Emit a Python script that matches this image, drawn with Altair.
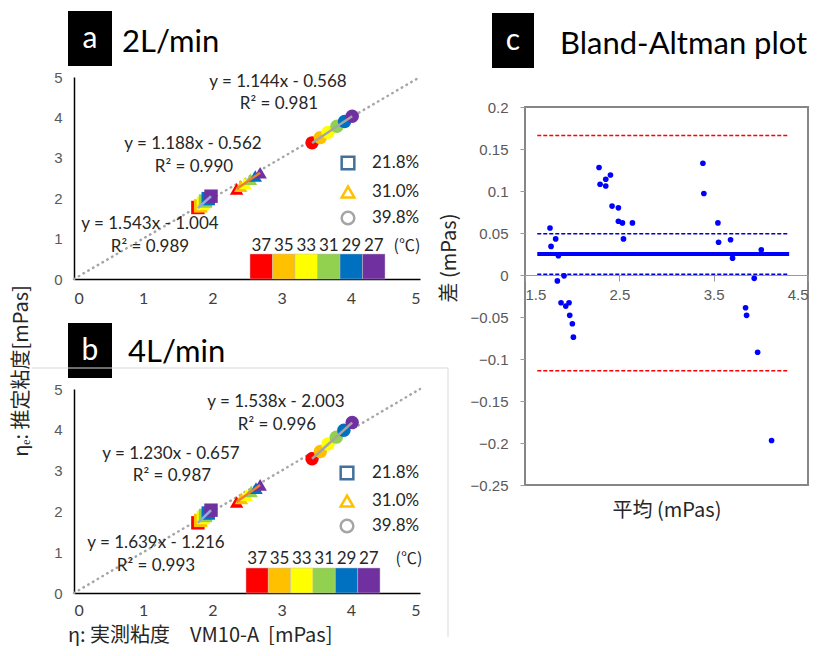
import altair as alt
import pandas as pd

# ---------------- data ----------------
TEMPS = ["37", "35", "33", "31", "29", "27"]
TEMP_COLORS = ["#FF0000", "#FFC000", "#FFFF00", "#92D050", "#0070C0", "#7030A0"]
SOLUTIONS = ["21.8%", "31.0%", "39.8%"]
SHAPES = ["square", "triangle-up", "circle"]
TREND_COLORS = ["#8FAADC", "#ED7D31", "#A5A5A5"]
LEGEND_COLORS = ["#41719C", "#FFC000", "#A5A5A5"]
DIAG = [0, 5]
TICKS_AB = [0, 1, 2, 3, 4, 5]

# panel a : 2 L/min  (x = measured, y = estimated)
a_sq_x = [1.79, 1.83, 1.87, 1.90, 1.94, 1.98]
a_sq_y = [1.77, 1.81, 1.87, 1.93, 1.99, 2.05]
a_tri_x = [2.35, 2.41, 2.47, 2.55, 2.62, 2.69]
a_tri_y = [2.23, 2.30, 2.37, 2.47, 2.55, 2.63]
a_cir_x = [3.44, 3.56, 3.67, 3.80, 3.91, 4.02]
a_cir_y = [3.37, 3.50, 3.63, 3.78, 3.90, 4.03]
a_eq = ["y = 1.543x - 1.004", "R² = 0.989",
        "y = 1.188x - 0.562", "R² = 0.990",
        "y = 1.144x - 0.568", "R² = 0.981"]

# panel b : 4 L/min
b_sq_x = [1.79, 1.83, 1.87, 1.90, 1.94, 1.98]
b_sq_y = [1.72, 1.78, 1.85, 1.90, 1.96, 2.03]
b_tri_x = [2.35, 2.42, 2.49, 2.56, 2.63, 2.69]
b_tri_y = [2.23, 2.32, 2.40, 2.49, 2.57, 2.65]
b_cir_x = [3.44, 3.56, 3.67, 3.79, 3.90, 4.02]
b_cir_y = [3.29, 3.47, 3.65, 3.82, 3.99, 4.18]
b_eq = ["y = 1.639x - 1.216", "R² = 0.993",
        "y = 1.230x - 0.657", "R² = 0.987",
        "y = 1.538x - 2.003", "R² = 0.996"]

# panel c : Bland-Altman
BA_MEAN = [1.765, 1.776, 1.825, 1.854, 1.843, 1.882, 1.914, 1.932, 1.967, 1.974,
           2.002, 2.013, 2.285, 2.296, 2.356, 2.356, 2.406, 2.423, 2.49, 2.49,
           2.533, 2.544, 2.639, 3.386, 3.396, 3.545, 3.552, 3.679, 3.70, 3.93,
           3.838, 3.849, 3.966, 4.005, 4.114]
BA_DIFF = [0.056, 0.034, 0.043, 0.023, -0.007, -0.033, -0.001, -0.037, -0.033, -0.048,
           -0.058, -0.074, 0.128, 0.108, 0.114, 0.106, 0.119, 0.082, 0.080, 0.064,
           0.062, 0.043, 0.062, 0.133, 0.097, 0.062, 0.039, 0.042, 0.020, -0.004,
           -0.039, -0.048, -0.092, 0.030, -0.197]
BA_LOA = [0.166, -0.114]
BA_CI = [0.049, 0.001]
BA_BIAS = [0.025]
BA_LINE_X = [1.63, 4.30]
TICKS_CY = [0.2, 0.15, 0.1, 0.05, 0, -0.05, -0.1, -0.15, -0.2, -0.25]
TICKS_CX = [1.5, 2.5, 3.5, 4.5]

LATIN = "Lato"
CJK = "Noto Sans CJK JP"
TXT = "#262626"


def text_layer(label, x, y, size=17, color=TXT, font=LATIN, align="center", angle=0, weight="normal"):
    return alt.Chart(pd.DataFrame({"t": [label]})).mark_text(
        font=font, fontSize=size, color=color, align=align, baseline="middle",
        angle=angle, fontWeight=weight
    ).encode(text="t:N", x=alt.value(x), y=alt.value(y))


def header(letter, title, bx0, bx1, by0, by1, lx, ly, tx, ty, tsize):
    df = pd.DataFrame({"letter": [letter], "title": [title]})
    box = alt.Chart(df).mark_rect(color="black").encode(
        x=alt.value(bx0), x2=alt.value(bx1), y=alt.value(by0), y2=alt.value(by1))
    let = alt.Chart(df).mark_text(font=LATIN, fontSize=30, color="white", align="center",
                                  baseline="middle").encode(text="letter:N", x=alt.value(lx), y=alt.value(ly))
    tit = alt.Chart(df).mark_text(font=LATIN, fontSize=tsize, color="black", align="left",
                                  baseline="middle").encode(text="title:N", x=alt.value(tx), y=alt.value(ty))
    return [box, let, tit]


def scatter_panel(xs_list, ys_list, eqs, eq_pos, leg_x, leg_tx, leg_y, cb_x, cb_y, cb_ly, unit_x,
                  hdr, height, xpad, extra):
    rows = []
    for sol, xs, ys in zip(SOLUTIONS, xs_list, ys_list):
        for t, xv, yv in zip(TEMPS, xs, ys):
            rows.append({"x": xv, "y": yv, "temp": t, "sol": sol})
    df = pd.DataFrame(rows)
    xsc = alt.Scale(domain=[0, 5], nice=False, zero=False)
    ysc = alt.Scale(domain=[0, 5], nice=False, zero=False)
    xax = alt.Axis(values=TICKS_AB, format="d", grid=False, ticks=False, domainColor="black",
                   domainWidth=1.5, labelFont=LATIN, labelFontSize=16, labelColor="#404040",
                   labelPadding=xpad, title=None)
    yax = alt.Axis(values=TICKS_AB, format="d", grid=False, ticks=False, domainColor="black",
                   domainWidth=1.5, labelFont="Liberation Sans", labelFontSize=15,
                   labelColor="#595959", labelPadding=12, title=None)
    X = alt.X("x:Q", scale=xsc, axis=xax)
    Y = alt.Y("y:Q", scale=ysc, axis=yax)
    tscale = alt.Scale(domain=TEMPS, range=TEMP_COLORS)

    diag = alt.Chart(pd.DataFrame({"x": DIAG, "y": DIAG})).mark_line(
        color="#A6A6A6", strokeWidth=2.5, strokeDash=[0.5, 5], strokeCap="round").encode(x=X, y=Y)
    pts = alt.Chart(df).mark_point(filled=True, size=180, opacity=1, strokeWidth=0).encode(
        x=X, y=Y,
        color=alt.Color("temp:N", scale=tscale, legend=None),
        shape=alt.Shape("sol:N", scale=alt.Scale(domain=SOLUTIONS, range=SHAPES), legend=None),
        order=alt.Order("x:Q"))
    trend = alt.Chart(df).transform_regression("x", "y", groupby=["sol"]).mark_line(
        strokeWidth=2.5).encode(
        x=X, y=Y,
        stroke=alt.Stroke("sol:N", scale=alt.Scale(domain=SOLUTIONS, range=TREND_COLORS), legend=None))

    layers = [diag, pts, trend]
    for lab, (px, py) in zip(eqs, eq_pos):
        layers.append(text_layer(lab, px, py, size=17))
    # legend
    for i, sol in enumerate(SOLUTIONS):
        sym = alt.Chart(pd.DataFrame({"s": [sol]})).mark_point(
            shape=SHAPES[i], size=160, strokeWidth=2.5, filled=False, color=LEGEND_COLORS[i], opacity=1
        ).encode(x=alt.value(leg_x), y=alt.value(leg_y[i]))
        layers.append(sym)
        layers.append(text_layer(sol, leg_tx, leg_y[i], size=17, align="left"))
    layers.append(text_layer("(℃)", unit_x, cb_ly, size=16, font=CJK))
    layers += hdr
    layers += extra
    main = alt.layer(*layers)

    cdf = pd.DataFrame({"temp": TEMPS})
    cbx = alt.X("temp:N", scale=alt.Scale(domain=TEMPS, range=cb_x, paddingInner=0, paddingOuter=0),
                axis=None)
    cb_rect = alt.Chart(cdf).mark_rect(stroke="#BFBFBF", strokeWidth=0.5).encode(
        x=cbx, y=alt.value(cb_y[0]), y2=alt.value(cb_y[1]),
        color=alt.Color("temp:N", scale=tscale, legend=None))
    cb_text = alt.Chart(cdf).mark_text(font=LATIN, fontSize=17, color=TXT, baseline="middle").encode(
        x=cbx, y=alt.value(cb_ly), text="temp:N")
    cbar = alt.layer(cb_rect, cb_text)
    return alt.layer(main, cbar).resolve_scale(x="independent").properties(width=346, height=height)


# ---------- panel a ----------
hdr_a = header("a", "2L/min", -6, 38, -66, -11, 16, -38, 48, -34, 31)
ytitle = text_layer("ηₑ: 推定粘度[mPas]", -52, 294, size=20, font=CJK, angle=270)
panel_a = scatter_panel(
    [a_sq_x, a_tri_x, a_cir_x], [a_sq_y, a_tri_y, a_cir_y], a_eq,
    [(76, 147), (76, 170), (119, 67), (120, 90), (204, 5), (205, 27)],
    274, 298, [86, 115, 141], [176, 311], [177, 202], 169, 333, hdr_a, 202, 11, [ytitle])

# ---------- panel b ----------
hdr_b = header("b", "4L/min", -6, 38, -66, -11, 16, -38, 54, -36, 31)
xtitle_b = text_layer("η: 実測粘度\u3000VM10-A\u00a0\u00a0[mPas]", -6, 247, size=20, font=CJK, align="left")
frame_top = alt.Chart(pd.DataFrame({"f": [0]})).mark_rule(color="#D9D9D9", strokeWidth=1).encode(
    x=alt.value(-42), x2=alt.value(361), y=alt.value(-21))
panel_b = scatter_panel(
    [b_sq_x, b_tri_x, b_cir_x], [b_sq_y, b_tri_y, b_cir_y], b_eq,
    [(82, 154), (82, 177), (97, 65), (98, 87), (202, 13), (203, 36)],
    273, 298, [84, 112, 137], [172, 306], [179, 204], 170, 335, hdr_b, 204, 9,
    [xtitle_b, frame_top])

# ---------- panel c ----------
cdf = pd.DataFrame({"m": BA_MEAN, "d": BA_DIFF})
cxs = alt.Scale(domain=[1.5, 4.5], nice=False, zero=False)
cys = alt.Scale(domain=[-0.25, 0.2], nice=False, zero=False)
cxax = alt.Axis(values=TICKS_CX, format=".1f", offset=-210, grid=False, domainColor="#9A9A9A",
                domainWidth=1, tickColor="#9A9A9A", tickSize=6, labelFont="Liberation Sans",
                labelFontSize=15, labelColor="#595959", labelPadding=6, title=None)
cyax = alt.Axis(values=TICKS_CY, format=".2~f", grid=False, domain=False, tickColor="#9A9A9A",
                tickSize=5, labelFont="Liberation Sans", labelFontSize=15, labelColor="#595959",
                labelPadding=12, title=None)
CX = alt.X("m:Q", scale=cxs, axis=cxax)
CY = alt.Y("d:Q", scale=cys, axis=cyax)

c_pts = alt.Chart(cdf).mark_circle(size=32, color="#0000FF", opacity=1).encode(x=CX, y=CY)


def hline(vals, color, width, dash=None):
    d = pd.DataFrame({"d": vals, "m": [BA_LINE_X[0]] * len(vals), "m2": [BA_LINE_X[1]] * len(vals)})
    kw = dict(color=color, strokeWidth=width)
    if dash:
        kw["strokeDash"] = dash
    return alt.Chart(d).mark_rule(**kw).encode(
        x=alt.X("m:Q", scale=cxs, axis=cxax), x2="m2:Q", y=alt.Y("d:Q", scale=cys, axis=cyax))


loa = hline(BA_LOA, "#FF0000", 1.5, [4, 2])
ci = hline(BA_CI, "#0000CC", 1.5, [4, 2])
bias = hline(BA_BIAS, "#0000FF", 4)

hdr_c = header("c", "Bland-Altman plot", -33, 9, -94, -39, -12, -66, 35, -62, 31)
c_xt = text_layer("平均 (mPas)", 142, 404, size=20, font=CJK)
c_yt = text_layer("差 (mPas)", -75, 151, size=20, font=CJK, angle=270)
frame_r = alt.Chart(pd.DataFrame({"f": [0]})).mark_rule(color="#D9D9D9", strokeWidth=1).encode(
    x=alt.value(-77), y=alt.value(261), y2=alt.value(530))
frame_t = alt.Chart(pd.DataFrame({"f": [0]})).mark_rule(color="#D9D9D9", strokeWidth=1).encode(
    x=alt.value(-90), x2=alt.value(-77), y=alt.value(261))

panel_c = alt.layer(loa, ci, bias, c_pts, c_xt, c_yt, frame_r, frame_t, *hdr_c).properties(
    width=283, height=378, view=alt.ViewBackground(stroke="#868686", strokeWidth=2))

spacer = alt.Chart(pd.DataFrame({"s": [0]})).mark_point(opacity=0).encode(
    x=alt.value(0), y=alt.value(0)).properties(width=283, height=10)

left = alt.vconcat(panel_a, panel_b, spacing=110, bounds="flush")
right = alt.vconcat(spacer, panel_c, spacing=20, bounds="flush")
chart = alt.hconcat(left, right, spacing=451, bounds="flush").properties(
    padding={"left": 3, "top": 2, "right": 0, "bottom": 0}
).configure_view(stroke="transparent")

chart.save("out.html", embed_options={"renderer": "svg", "actions": False})
